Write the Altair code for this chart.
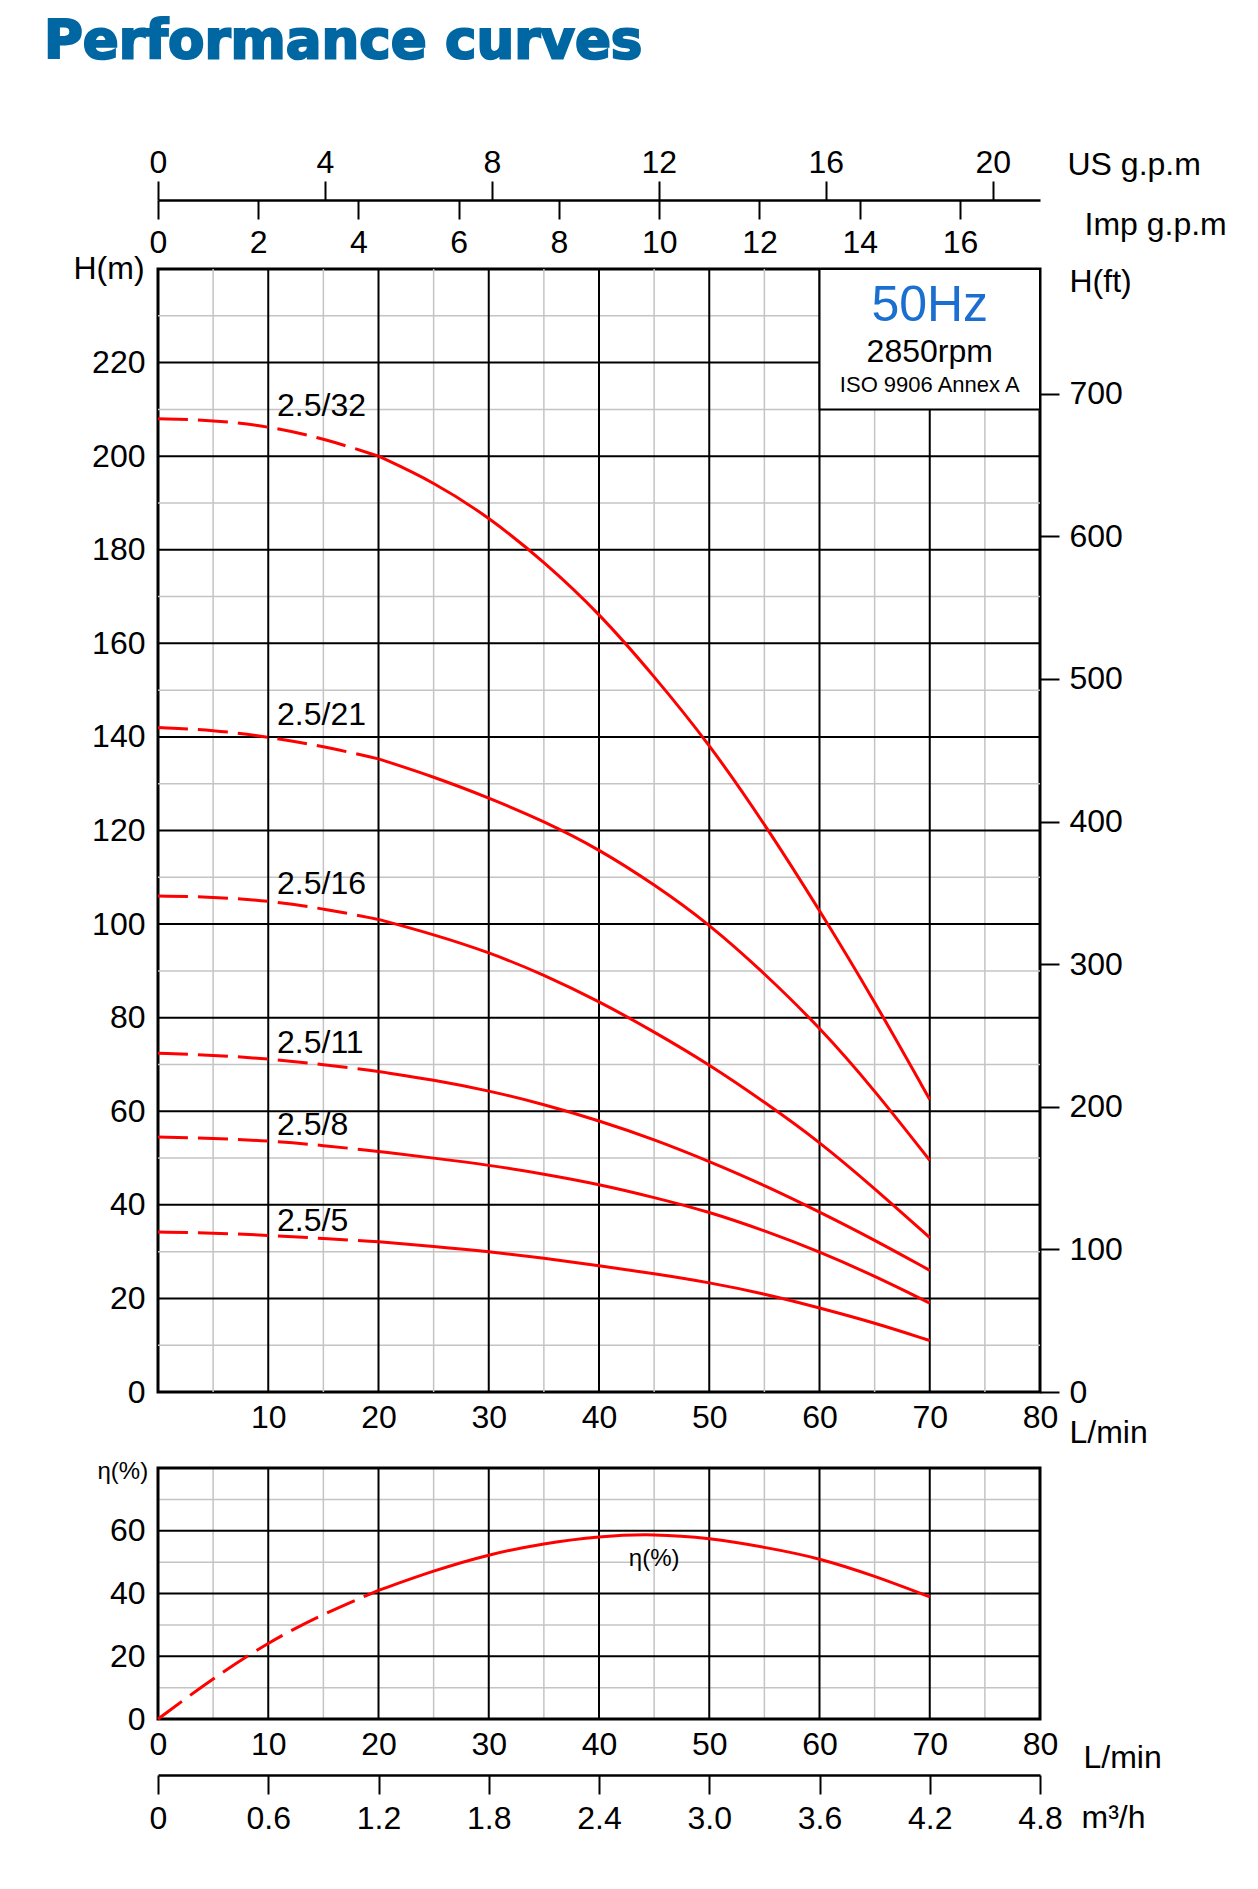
import altair as alt
import pandas as pd

# ------------------------------------------------------------------
# Data
# ------------------------------------------------------------------
flow_lpm = [0, 5, 10, 15, 20, 25, 30, 35, 40, 45, 50, 55, 60, 65, 70]
model_names = ["2.5/32", "2.5/21", "2.5/16", "2.5/11", "2.5/8", "2.5/5"]
head_2_5_32 = [208.0, 207.7, 206.4, 203.8, 200.0, 194.5, 187.0, 177.5, 166.5, 153.0, 138.5, 121.5, 103.0, 83.5, 62.5]
head_2_5_21 = [142.0, 141.5, 140.0, 138.0, 135.3, 131.5, 127.0, 122.0, 116.0, 108.5, 100.0, 89.5, 78.0, 64.5, 49.5]
head_2_5_16 = [106.0, 105.8, 105.0, 103.3, 101.0, 97.8, 94.0, 89.2, 83.5, 77.0, 70.0, 62.0, 53.5, 43.5, 33.0]
head_2_5_11 = [72.4, 72.0, 71.2, 70.0, 68.5, 66.7, 64.4, 61.5, 58.0, 54.0, 49.3, 44.2, 38.5, 32.5, 26.0]
head_2_5_8 = [54.5, 54.2, 53.7, 52.7, 51.4, 50.0, 48.5, 46.6, 44.4, 41.6, 38.5, 34.5, 30.0, 24.8, 19.0]
head_2_5_5 = [34.2, 34.0, 33.5, 32.8, 32.1, 31.1, 30.0, 28.6, 27.0, 25.3, 23.4, 21.0, 18.0, 14.8, 11.0]
efficiency_pct = [0.0, 13.0, 24.5, 33.5, 41.0, 47.3, 52.5, 56.0, 58.3, 59.0, 57.7, 54.8, 51.3, 45.6, 38.9]
dashed_below_lpm = 20

label_flow = [10.8, 10.8, 10.8, 10.8, 10.8, 10.8]
label_head = [208.5, 142.5, 106.5, 72.5, 55.0, 34.5]
eff_label_flow = [45]
eff_label_value = [51]
eff_label_text = ["η(%)"]

box_lines = ["50Hz", "2850rpm", "ISO 9906 Annex A"]

# tick values
lpm_ticks_main = [10, 20, 30, 40, 50, 60, 70, 80]
lpm_ticks_eff = [0, 10, 20, 30, 40, 50, 60, 70, 80]
head_m_ticks = [0, 20, 40, 60, 80, 100, 120, 140, 160, 180, 200, 220]
head_ft_ticks = [0, 100, 200, 300, 400, 500, 600, 700]
us_gpm_ticks = [0, 4, 8, 12, 16, 20]
imp_gpm_ticks = [0, 2, 4, 6, 8, 10, 12, 14, 16]
eff_ticks = [0, 20, 40, 60]
m3h_ticks = [0, 0.6, 1.2, 1.8, 2.4, 3.0, 3.6, 4.2, 4.8]

# grid lines
grid_q_major = [10, 20, 30, 40, 50, 60, 70]
grid_q_minor = [5, 15, 25, 35, 45, 55, 65, 75]
grid_h_major = [20, 40, 60, 80, 100, 120, 140, 160, 180, 200, 220]
grid_h_minor = [10, 30, 50, 70, 90, 110, 130, 150, 170, 190, 210, 230]
grid_e_major = [20, 40, 60]
grid_e_minor = [10, 30, 50, 70]

# unit conversions
LPM_PER_USGPM = 3.78541
LPM_PER_IMPGPM = 4.54609
M_PER_FT = 0.3048
LPM_PER_M3H = 1000.0 / 60.0

Q_MAX = 80
H_MAX = 240
E_MAX = 80

# ------------------------------------------------------------------
RED = "#ff0000"
GREY = "#c4c4c4"
FONT = "Liberation Sans"
FS = 32

W = 882
H_MAIN = 1123
GAP = 76
H_EFF = 251
EFF_TOP = H_MAIN + GAP
EFF_BOTTOM = EFF_TOP + H_EFF

xs = alt.Scale(domain=[0, Q_MAX], nice=False, zero=False)
ys = alt.Scale(domain=[0, H_MAX], nice=False, zero=False)
es = alt.Scale(domain=[0, E_MAX], nice=False, zero=False, range=[EFF_BOTTOM, EFF_TOP])

heads = [head_2_5_32, head_2_5_21, head_2_5_16, head_2_5_11, head_2_5_8, head_2_5_5]
rows = []
for name, hs in zip(model_names, heads):
    for q, h in zip(flow_lpm, hs):
        rows.append({"model": name, "q": q, "h": h})
curves = pd.DataFrame(rows)
curves_dashed = curves[curves["q"] <= dashed_below_lpm]
curves_solid = curves[curves["q"] >= dashed_below_lpm]

eff = pd.DataFrame({"q": flow_lpm, "e": efficiency_pct})
eff_dashed = eff[eff["q"] <= dashed_below_lpm]
eff_solid = eff[eff["q"] >= dashed_below_lpm]

labels_df = pd.DataFrame({"model": model_names, "q": label_flow, "h": label_head})
eff_label_df = pd.DataFrame({"q": eff_label_flow, "e": eff_label_value, "t": eff_label_text})
one = pd.DataFrame({"k": [0]})


def vrules(vals, color, width):
    return alt.Chart(pd.DataFrame({"v": vals})).mark_rule(color=color, strokeWidth=width).encode(
        x=alt.X("v:Q", scale=xs, axis=None))


def vrules_eff(vals, color, width):
    return alt.Chart(pd.DataFrame({"v": vals})).mark_rule(color=color, strokeWidth=width).encode(
        x=alt.X("v:Q", scale=xs, axis=None),
        y=alt.YDatum(0, scale=es, axis=None), y2=alt.datum(E_MAX))


def hrules(vals, color, width, scale):
    return alt.Chart(pd.DataFrame({"v": vals})).mark_rule(color=color, strokeWidth=width).encode(
        y=alt.Y("v:Q", scale=scale, axis=None))


# ---------------- axes ----------------
main_x_axis = alt.Axis(values=lpm_ticks_main, orient="bottom", labelPadding=10,
                       title="L/min", titleX=911, titleY=50, titleAlign="left",
                       titleBaseline="alphabetic", titleAngle=0)
main_y_axis = alt.Axis(values=head_m_ticks, orient="left", labelPadding=13,
                       title="H(m)", titleX=-85, titleY=9, titleAlign="left",
                       titleBaseline="alphabetic", titleAngle=0)
ft_axis = alt.Axis(values=head_ft_ticks, orient="right", ticks=True, tickSize=19, tickWidth=2,
                   tickColor="black", labelPadding=10,
                   title="H(ft)", titleX=29, titleY=22, titleAlign="left",
                   titleBaseline="alphabetic", titleAngle=0)
us_axis = alt.Axis(values=us_gpm_ticks, orient="top", offset=69, domain=True, domainColor="black",
                   domainWidth=2.5, ticks=True, tickSize=19, tickWidth=2, tickColor="black",
                   labelPadding=2, title="US g.p.m", titleX=909, titleY=-26, titleAlign="left",
                   titleBaseline="alphabetic", titleAngle=0)
imp_tick_axis = alt.Axis(values=imp_gpm_ticks, orient="top", offset=50, domain=False,
                         ticks=True, tickSize=19, tickWidth=2, tickColor="black", labels=False,
                         title="Imp g.p.m", titleX=926, titleY=15, titleAlign="left",
                         titleBaseline="alphabetic", titleAngle=0)
imp_label_axis = alt.Axis(values=imp_gpm_ticks, orient="top", offset=8, domain=False,
                          ticks=False, labelPadding=1.5, title=None)

eff_x_axis = alt.Axis(values=lpm_ticks_eff, orient="bottom", offset=GAP + H_EFF, labelPadding=10,
                      title="L/min", titleX=925, titleY=48, titleAlign="left",
                      titleBaseline="alphabetic", titleAngle=0)
eff_y_axis = alt.Axis(values=eff_ticks, orient="left", labelPadding=13,
                      title="η(%)", titleX=-61, titleY=EFF_TOP + 10, titleAlign="left",
                      titleBaseline="alphabetic", titleAngle=0, titleFontSize=24)
m3h_axis = alt.Axis(values=m3h_ticks, orient="bottom", offset=GAP + H_EFF + 56, domain=True,
                    domainColor="black", domainWidth=2.5, ticks=True, tickSize=19, tickWidth=2,
                    tickColor="black", labelPadding=9.5,
                    labelExpr="datum.value == 0 ? '0' : format(datum.value, '.1f')",
                    title="m³/h", titleX=923, titleY=52, titleAlign="left",
                    titleBaseline="alphabetic", titleAngle=0)

# ---------------- main (head) panel ----------------
box = alt.Chart(one).mark_rect(fill="white", stroke="black", strokeWidth=2).encode(
    x=alt.XDatum(60, scale=xs, axis=None), x2=alt.datum(80),
    y=alt.YDatum(210, scale=ys, axis=None), y2=alt.datum(240))


def box_text(txt, size, color, ypix):
    return alt.Chart(one).mark_text(text=txt, font=FONT, fontSize=size, color=color,
                                    align="center", baseline="alphabetic").encode(
        x=alt.XDatum(70, scale=xs, axis=None), y=alt.value(ypix))


box_hz = box_text(box_lines[0], 50, "#1a6fd1", 52)
box_rpm = box_text(box_lines[1], 32, "black", 93)
box_iso = box_text(box_lines[2], 22, "black", 123)

dashed_lines = alt.Chart(curves_dashed).mark_line(
    color=RED, strokeWidth=3, strokeDash=[30, 10], interpolate="basis").encode(
    x=alt.X("q:Q", scale=xs, axis=None), y=alt.Y("h:Q", scale=ys, axis=None), detail="model:N")
solid_lines = alt.Chart(curves_solid).mark_line(
    color=RED, strokeWidth=3, interpolate="basis").encode(
    x=alt.X("q:Q", scale=xs, axis=main_x_axis), y=alt.Y("h:Q", scale=ys, axis=main_y_axis),
    detail="model:N")

curve_labels = alt.Chart(labels_df).mark_text(font=FONT, fontSize=FS, color="black",
                                              align="left", baseline="alphabetic").encode(
    x=alt.X("q:Q", scale=xs, axis=None), y=alt.Y("h:Q", scale=ys, axis=None), text="model:N")

page_title = alt.Chart(one).mark_text(text="Performance curves", font="DejaVu Sans",
                                      fontWeight="bold", fontSize=53, color="#0067a3",
                                      stroke="#0067a3", strokeWidth=2.2,
                                      align="left", baseline="alphabetic").encode(
    x=alt.value(-114), y=alt.value(-211))

us_layer = alt.Chart(pd.DataFrame({"u": us_gpm_ticks})).mark_point(opacity=0).encode(
    x=alt.X("u:Q", scale=alt.Scale(domain=[0, Q_MAX / LPM_PER_USGPM], nice=False, zero=False),
            axis=us_axis))
imp_tick_layer = alt.Chart(pd.DataFrame({"i": imp_gpm_ticks})).mark_point(opacity=0).encode(
    x=alt.X("i:Q", scale=alt.Scale(domain=[0, Q_MAX / LPM_PER_IMPGPM], nice=False, zero=False),
            axis=imp_tick_axis))
imp_label_layer = alt.Chart(pd.DataFrame({"i": imp_gpm_ticks})).mark_point(opacity=0).encode(
    x=alt.X("i:Q", scale=alt.Scale(domain=[0, Q_MAX / LPM_PER_IMPGPM], nice=False, zero=False),
            axis=imp_label_axis))
ft_layer = alt.Chart(pd.DataFrame({"f": head_ft_ticks})).mark_point(opacity=0).encode(
    y=alt.Y("f:Q", scale=alt.Scale(domain=[0, H_MAX / M_PER_FT], nice=False, zero=False),
            axis=ft_axis))

# ---------------- efficiency panel (drawn below, own y range) ----------------
eff_frame = alt.Chart(one).mark_rect(fill="transparent", stroke="black", strokeWidth=3).encode(
    x=alt.XDatum(0, scale=xs, axis=None), x2=alt.datum(Q_MAX),
    y=alt.YDatum(0, scale=es, axis=None), y2=alt.datum(E_MAX))
eff_dash = alt.Chart(eff_dashed).mark_line(color=RED, strokeWidth=3, strokeDash=[30, 10],
                                           interpolate="basis").encode(
    x=alt.X("q:Q", scale=xs, axis=None), y=alt.Y("e:Q", scale=es, axis=None))
eff_line = alt.Chart(eff_solid).mark_line(color=RED, strokeWidth=3, interpolate="basis").encode(
    x=alt.X("q:Q", scale=xs, axis=eff_x_axis), y=alt.Y("e:Q", scale=es, axis=eff_y_axis))
eff_text = alt.Chart(eff_label_df).mark_text(font=FONT, fontSize=24, color="black",
                                             align="center", baseline="middle").encode(
    x=alt.X("q:Q", scale=xs, axis=None), y=alt.Y("e:Q", scale=es, axis=None), text="t:N")
m3h_layer = alt.Chart(pd.DataFrame({"m": m3h_ticks})).mark_point(opacity=0).encode(
    x=alt.X("m:Q", scale=alt.Scale(domain=[0, Q_MAX / LPM_PER_M3H], nice=False, zero=False),
            axis=m3h_axis))

chart = alt.layer(
    vrules(grid_q_minor, GREY, 1.5), hrules(grid_h_minor, GREY, 1.5, ys),
    vrules(grid_q_major, "black", 2), hrules(grid_h_major, "black", 2, ys),
    box, box_hz, box_rpm, box_iso,
    dashed_lines, solid_lines, curve_labels, page_title,
    us_layer, imp_tick_layer, imp_label_layer, ft_layer,
    vrules_eff(grid_q_minor, GREY, 1.5), hrules(grid_e_minor, GREY, 1.5, es),
    vrules_eff(grid_q_major, "black", 2), hrules(grid_e_major, "black", 2, es),
    eff_frame, eff_dash, eff_line, eff_text, m3h_layer,
).resolve_scale(
    x="independent", y="independent"
).properties(
    width=W, height=H_MAIN,
    padding={"left": 36, "top": 8, "right": 5, "bottom": 5},
    background="white",
).configure_axis(
    labelFont=FONT, labelFontSize=FS, labelColor="black",
    titleFont=FONT, titleFontSize=32, titleFontWeight="normal", titleColor="black",
    grid=False, domain=False, ticks=False, tickSize=0,
    labelFlush=False, labelOverlap=False,
).configure_view(stroke="black", strokeWidth=3)

chart.save("out.html", embed_options={"renderer": "svg", "actions": False})
